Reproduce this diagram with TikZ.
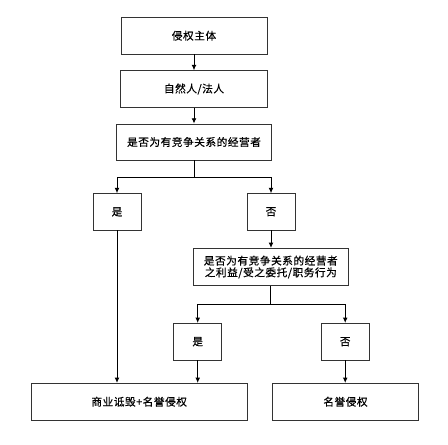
\documentclass[tikz,border=0pt]{standalone}
\usepackage{fontspec}
\setmainfont{Noto Sans CJK SC}[LetterSpace=5,FakeBold=0.6]
\usetikzlibrary{arrows.meta}
\begin{document}
\begin{tikzpicture}[x=0.75pt,y=-0.75pt,
  box/.style={draw=black!80,line width=0.6pt,inner sep=0pt,align=center,
    font=\fontsize{8pt}{8.8pt}\selectfont},
  conn/.style={line width=0.7pt},
  arr/.style={conn,-{Latex[length=4pt,width=3.6pt]}}]
\useasboundingbox (0,0) rectangle (448,444);
\node[box,minimum width={146*0.75pt},minimum height={36.7*0.75pt}] (b1) at (194,35.7) {侵权主体};
\node[box,minimum width={146.3*0.75pt},minimum height={36.6*0.75pt}] (b2) at (194,89) {自然人/法人};
\node[box,minimum width={155*0.75pt},minimum height={36*0.75pt}] (b3) at (194,142) {是否为有竞争关系的经营者};
\node[box,minimum width={48*0.75pt},minimum height={36.3*0.75pt}] (y1) at (117,211.8) {是};
\node[box,minimum width={48*0.75pt},minimum height={36.3*0.75pt}] (n1) at (271,211.8) {否};
\node[box,minimum width={155*0.75pt},minimum height={37.4*0.75pt}] (b4) at (270.8,267) {是否为有竞争关系的经营者\\之利益/受之委托/职务行为};
\node[box,minimum width={48*0.75pt},minimum height={36.7*0.75pt}] (y2) at (197.7,341.7) {是};
\node[box,minimum width={47.7*0.75pt},minimum height={36.7*0.75pt}] (n2) at (345.2,341.7) {否};
\node[box,minimum width={216.3*0.75pt},minimum height={36.7*0.75pt}] (b5) at (139.2,401.7) {商业诋毁+名誉侵权};
\node[box,minimum width={146.4*0.75pt},minimum height={36.7*0.75pt}] (b6) at (345.5,401.7) {名誉侵权};
\coordinate (j1) at (194,177.3);
\coordinate (j2) at (270.8,304.3);
\draw[arr] (b1.south) -- (b2.north);
\draw[arr] (b2.south) -- (b3.north);
\draw[conn] (b3.south) -- (j1);
\draw[arr] (j1) -| (y1.north);
\draw[arr] (j1) -| (n1.north);
\draw[arr] (n1.south) -- (n1.south |- b4.north);
\draw[arr] (y1.south) -- (y1.south |- b5.north);
\draw[conn] (b4.south) -- (j2);
\draw[arr] (j2) -| (y2.north);
\draw[arr] (j2) -| (n2.north);
\draw[arr] (y2.south) -- (y2.south |- b5.north);
\draw[arr] (n2.south) -- (n2.south |- b6.north);
\end{tikzpicture}
\end{document}
